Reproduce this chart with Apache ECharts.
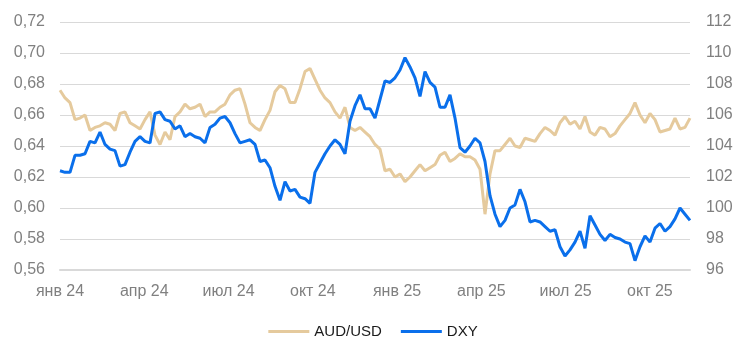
<!DOCTYPE html>
<html>
<head>
<meta charset="utf-8">
<script src="https://cdn.jsdelivr.net/npm/echarts@6/dist/echarts.min.js"></script>
<style>
html,body{margin:0;padding:0;background:#fff;}
#chart{width:746px;height:355px;}
</style>
</head>
<body>
<div id="chart"></div>
<script>
// Tick labels on the time axis (one per quarter, starting Jan 2024)
const tickLabels = ["янв 24","апр 24","июл 24","окт 24","янв 25","апр 25","июл 25","окт 25"];
// Samples are spaced evenly in time from 2 Jan 2024 (about 5.4 days apart), in months since Jan 2024
const sampleStepMonths = 0.178;

const audusd = [
0.676,0.671,0.668,0.657,0.658,0.660,0.650,0.652,0.653,0.655,
0.654,0.650,0.661,0.662,0.655,0.653,0.651,0.657,0.662,0.647,
0.641,0.649,0.644,0.659,0.662,0.667,0.664,0.665,0.667,0.659,
0.662,0.662,0.665,0.667,0.673,0.676,0.677,0.667,0.655,0.652,
0.650,0.657,0.663,0.675,0.679,0.677,0.668,0.668,0.677,0.688,
0.690,0.683,0.676,0.671,0.668,0.662,0.658,0.665,0.652,0.650,
0.652,0.649,0.646,0.641,0.638,0.624,0.625,0.620,0.622,0.617,
0.620,0.624,0.628,0.624,0.626,0.628,0.634,0.636,0.630,0.632,
0.635,0.633,0.633,0.631,0.625,0.596,0.622,0.637,0.637,0.641,
0.645,0.640,0.639,0.645,0.644,0.643,0.648,0.652,0.650,0.647,
0.655,0.659,0.654,0.656,0.651,0.659,0.649,0.647,0.652,0.651,
0.646,0.648,0.653,0.657,0.661,0.668,0.660,0.655,0.661,0.657,
0.649,0.650,0.651,0.658,0.651,0.652,0.658
];

const dxy = [
102.4,102.3,102.3,103.4,103.4,103.5,104.3,104.2,104.9,104.1,
103.8,103.7,102.7,102.8,103.6,104.3,104.6,104.3,104.2,106.1,
106.2,105.7,105.6,105.1,105.3,104.6,104.8,104.6,104.5,104.2,
105.2,105.4,105.8,105.9,105.5,104.8,104.2,104.3,104.4,104.1,
103.0,103.1,102.6,101.4,100.5,101.7,101.1,101.2,100.7,100.6,
100.3,102.3,102.9,103.5,104.0,104.4,104.1,103.5,105.6,106.6,
107.3,106.4,106.4,105.8,107.0,108.2,108.1,108.4,108.9,109.7,
109.1,108.4,107.2,108.8,108.1,107.8,106.5,106.5,107.3,105.8,
103.9,103.6,104.0,104.5,104.2,103.0,100.8,99.6,98.8,99.2,
100.0,100.2,101.2,100.4,99.1,99.2,99.1,98.8,98.5,98.6,
97.5,96.9,97.3,97.8,98.5,97.4,99.5,98.9,98.3,97.9,
98.3,98.1,98.0,97.8,97.7,96.6,97.5,98.2,97.8,98.7,
99.0,98.5,98.8,99.3,100.0,99.6,99.2
];

const xMaxMonths = (audusd.length - 1) * sampleStepMonths;
const audData = audusd.map((v, i) => [i * sampleStepMonths, v]);
const dxyData = dxy.map((v, i) => [i * sampleStepMonths, v]);

const FONT = "'Liberation Sans', Arial, sans-serif";
const chart = echarts.init(document.getElementById('chart'), null, {renderer: 'canvas'});
chart.setOption({
  animation: false,
  backgroundColor: '#ffffff',
  textStyle: {fontFamily: FONT},
  grid: {left: 60, right: 56, top: 22, bottom: 85, containLabel: false},
  legend: {
    data: ['AUD/USD', 'DXY'],
    left: 'center',
    top: 319,
    icon: 'rect',
    itemWidth: 41,
    itemHeight: 3,
    itemGap: 19,
    textStyle: {color: '#1a1a1a', fontSize: 15, fontFamily: FONT}
  },
  xAxis: {
    type: 'value',
    min: 0,
    max: xMaxMonths,
    interval: 3,
    axisLine: {show: true, onZero: false, lineStyle: {color: '#d9d9d9', width: 2}},
    axisTick: {show: false},
    splitLine: {show: false},
    axisLabel: {
      color: '#808080', fontSize: 16, margin: 14, fontFamily: FONT,
      showMaxLabel: false,
      formatter: function (v) {
        const k = Math.round(v / 3);
        return (Math.abs(v - k * 3) < 1e-6 && tickLabels[k]) ? tickLabels[k] : '';
      }
    }
  },
  yAxis: [
    {
      type: 'value', min: 0.56, max: 0.72, interval: 0.02,
      axisLine: {show: false}, axisTick: {show: false},
      splitLine: {lineStyle: {color: '#d9d9d9', width: 1}},
      axisLabel: {color: '#808080', fontSize: 16, margin: 15, fontFamily: FONT,
        formatter: v => v.toFixed(2).replace('.', ',')}
    },
    {
      type: 'value', min: 96, max: 112, interval: 2, position: 'right',
      axisLine: {show: false}, axisTick: {show: false},
      splitLine: {show: false},
      axisLabel: {color: '#808080', fontSize: 16, margin: 16, fontFamily: FONT}
    }
  ],
  series: [
    {
      name: 'AUD/USD', type: 'line', yAxisIndex: 0, data: audData,
      showSymbol: false, symbol: 'none',
      lineStyle: {color: '#E5CA9D', width: 3},
      itemStyle: {color: '#E5CA9D'}
    },
    {
      name: 'DXY', type: 'line', yAxisIndex: 1, data: dxyData,
      showSymbol: false, symbol: 'none',
      lineStyle: {color: '#0A6FEB', width: 3},
      itemStyle: {color: '#0A6FEB'}
    }
  ]
});
</script>
</body>
</html>
